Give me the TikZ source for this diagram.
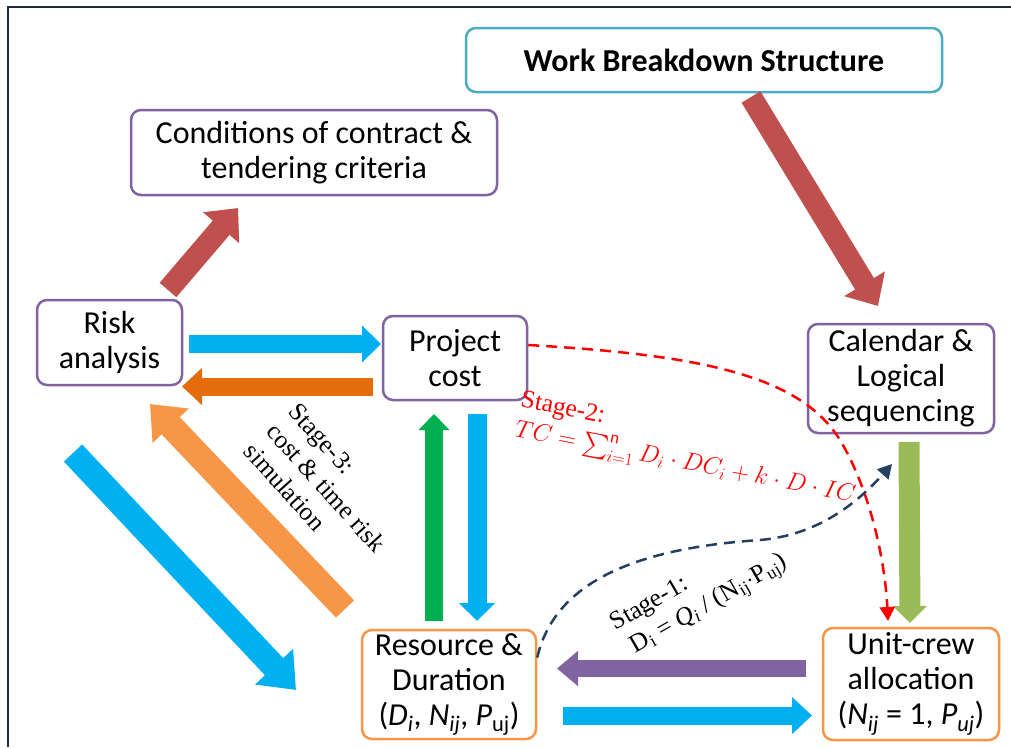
\documentclass[tikz,border=0pt]{standalone}
\usepackage{exscale}
\usepackage{fontspec}
\setmainfont{Carlito}
\newfontfamily\tnr{Liberation Serif}
\usetikzlibrary{arrows.meta}
\definecolor{cpurple}{HTML}{8064A2}
\definecolor{ccyan}{HTML}{4BACC6}
\definecolor{corange}{HTML}{F79646}
\definecolor{cred}{HTML}{C0504D}
\definecolor{cblue}{HTML}{00B0F0}
\definecolor{cdorange}{HTML}{E46C0A}
\definecolor{cgreen}{HTML}{00B050}
\definecolor{colive}{HTML}{9BBB59}
\definecolor{cnavy}{HTML}{243F60}
\definecolor{cframe}{HTML}{1F2A40}
\begin{document}
\begin{tikzpicture}[x=1pt,y=-1pt,
  box/.style={draw=#1, line width=2.5pt, rounded corners=10pt, align=center, inner sep=0pt,
    font=\fontsize{32}{35}\selectfont, text=black},
  blk/.style n args={4}{draw=#1, line width=#2, -{Triangle[width=#3,length=#4]}},
  stagetext/.style={inner sep=0pt, align=left, font=\tnr\fontsize{25.5}{30}\selectfont},
  dashlink/.style={draw=#1, line width=2.5pt, dash pattern=on 11pt off 7pt, -{Triangle[length=14pt,width=15pt]}}
]
\useasboundingbox (0,0) rectangle (1011,747);
\fill[white] (0,0) rectangle (1011,747);
\draw[cframe, line width=1.6pt] (8,747) -- (8,7) -- (1011,7);

% boxes
\node[box=ccyan, minimum width=476pt, minimum height=64pt, font=\bfseries\fontsize{32}{35}\selectfont] (wbs) at (704,60) {Work Breakdown Structure};
\node[box=cpurple, minimum width=366pt, minimum height=85pt] (cond) at (314,152.5) {Conditions of contract \&\\tendering criteria};
\node[box=cpurple, minimum width=145pt, minimum height=85pt] (risk) at (109.5,342.5) {Risk\\analysis};
\node[box=cpurple, minimum width=144pt, minimum height=84pt] (pc) at (455,358) {Project\\cost};
\node[box=cpurple, minimum width=186pt, minimum height=109pt] (cal) at (901,378.5) {Calendar \&\\Logical\\sequencing};
\node[box=corange, minimum width=174pt, minimum height=109pt] (rsd) at (449,684.5) {Resource \&\\Duration\\({\itshape D}\textsubscript{\itshape i}, {\itshape N}\textsubscript{\itshape ij}, {\itshape P}\textsubscript{uj})};
\node[box=corange, minimum width=176pt, minimum height=112pt] (uc) at (911,684) {Unit-crew\\allocation\\({\itshape N}\textsubscript{\itshape ij} = 1, {\itshape P}\textsubscript{\itshape uj})};

% block arrow end points
\coordinate (r1s) at (168,290); \coordinate (r1e) at (238,208);
\coordinate (r2s) at (751,97);  \coordinate (r2e) at (878,306);
\coordinate (b1s) at (189,344); \coordinate (b1e) at (381,344);
\coordinate (o1s) at (373,386.5); \coordinate (o1e) at (182,386.5);
\coordinate (g1s) at (434,621); \coordinate (g1e) at (434,414);
\coordinate (b2s) at (477,414); \coordinate (b2e) at (477,621);
\coordinate (o2s) at (345,609); \coordinate (o2e) at (150,404);
\coordinate (b3s) at (73,453);  \coordinate (b3e) at (296,690);
\coordinate (v1s) at (909,442); \coordinate (v1e) at (910,623);
\coordinate (p1s) at (806,668.5); \coordinate (p1e) at (557,668.5);
\coordinate (b4s) at (563,715.5); \coordinate (b4e) at (812,715.5);

\draw[blk={cred}{22pt}{46pt}{26pt}] (r1s) -- (r1e);
\draw[blk={cred}{22pt}{46pt}{26pt}] (r2s) -- (r2e);
\draw[blk={cblue}{18pt}{36pt}{19pt}] (b1s) -- (b1e);
\draw[blk={cdorange}{18pt}{36pt}{20pt}] (o1s) -- (o1e);
\draw[blk={cgreen}{18pt}{30pt}{16pt}] (g1s) -- (g1e);
\draw[blk={cblue}{19pt}{35pt}{18pt}] (b2s) -- (b2e);
\draw[blk={corange}{25pt}{48pt}{30pt}] (o2s) -- (o2e);
\draw[blk={cblue}{25pt}{50pt}{32pt}] (b3s) -- (b3e);
\draw[blk={colive}{21pt}{33pt}{17pt}] (v1s) -- (v1e);
\draw[blk={cpurple}{17pt}{34pt}{21pt}] (p1s) -- (p1e);
\draw[blk={cblue}{18pt}{36pt}{20pt}] (b4s) -- (b4e);

% dashed links
\coordinate (rdend) at (888,621);
\coordinate (nvend) at (892,464);
\draw[dashlink=red] ([yshift=13pt]pc.east) .. controls (700,355) and (800,375) .. (840,440) .. controls (870,490) and (885,560) .. (rdend);
\draw[dashlink=cnavy] ([yshift=27pt]rsd.east) .. controls (555,580) and (640,548) .. (760,540) .. controls (820,535) and (860,500) .. (nvend);

% stage texts
\node[stagetext, rotate=-48, anchor=north west] (s3) at (300,401) {Stage-3:\\cost \& time risk\\simulation};
\node[stagetext, rotate=-11, anchor=north west, text=red] (s2) at (523,390) {Stage-2:\\\fontsize{24}{30}\selectfont$TC=\sum\nolimits_{i=1}^{\mathrm{n}}D_i\cdot DC_i+k\cdot D\cdot IC$};
\node[stagetext, rotate=30, anchor=north west] (s1) at (607,616) {Stage-1:\\\hspace*{6pt}D\textsubscript{i} = \textit{Q}\textsubscript{\textit{i}} / (N\textsubscript{ij}$\cdot$P\textsubscript{uj})};
\end{tikzpicture}
\end{document}
